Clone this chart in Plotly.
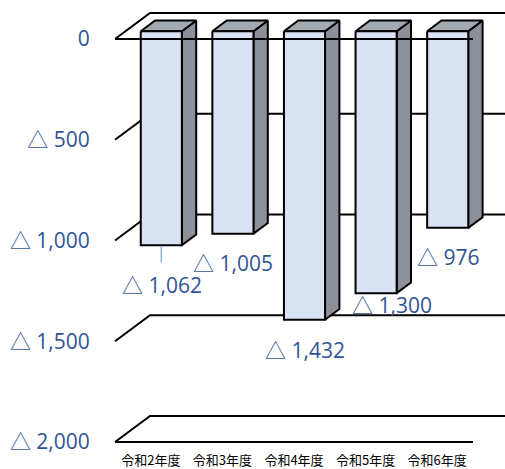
import plotly.graph_objects as go

# ---- data ----
categories = ["令和2年度", "令和3年度", "令和4年度", "令和5年度", "令和6年度"]
values = [-1062, -1005, -1432, -1300, -976]
y_ticks = [0, -500, -1000, -1500, -2000]


def fmt(v):
    return "0" if v == 0 else "△ " + f"{abs(v):,}"


# ---- 3D look (style, in axis units) ----
DX = 0.489      # x shift for a full depth step (category units)
DV = 129.0      # value shift for a full depth step
D_FRONT = 0.30  # depth of bar front face
D_BACK = 0.71   # depth of bar back face
HALF_W = 0.287  # half bar width
X_RANGE = [-0.542, 4.947]
Y_RANGE = [-2024.8, 153.8]
PX_PER_UNIT = 439 / (Y_RANGE[1] - Y_RANGE[0])

BLUE = "#2F5496"
FRONT_C = "#DAE3F3"
SIDE_C = "#8C9199"
TOP_C = "#A3A9B1"

# label nudges in pixels (dx, down)
label_nudge = [(1, 40), (0, 29), (0, 30), (16, 12), (0, 29)]

fig = go.Figure()

x_floor0 = -0.5
x_floor1 = len(categories) - 0.5

# back gridlines (side diagonal + back wall line)
gx, gy = [], []
for t in y_ticks:
    gx += [x_floor0, x_floor0 + DX, X_RANGE[1], None]
    gy += [t, t + DV, t + DV, None]
fig.add_trace(go.Scatter(x=gx, y=gy, mode="lines",
                         line=dict(color="black", width=2), hoverinfo="skip"))

# floor front edge at bottom
fig.add_trace(go.Scatter(x=[x_floor0, x_floor1], y=[y_ticks[-1], y_ticks[-1]],
                         mode="lines", line=dict(color="black", width=2),
                         hoverinfo="skip"))

# bars
fx, fy, sx, sy, tx, ty = [], [], [], [], [], []
for i, v in enumerate(values):
    xf0 = i - HALF_W + D_FRONT * DX
    xf1 = i + HALF_W + D_FRONT * DX
    xb0 = i - HALF_W + D_BACK * DX
    xb1 = i + HALF_W + D_BACK * DX
    vft, vfb = D_FRONT * DV, v + D_FRONT * DV
    vbt, vbb = D_BACK * DV, v + D_BACK * DV
    fx += [xf0, xf1, xf1, xf0, xf0, None]
    fy += [vft, vft, vfb, vfb, vft, None]
    sx += [xf1, xb1, xb1, xf1, xf1, None]
    sy += [vft, vbt, vbb, vfb, vft, None]
    tx += [xf0, xb0, xb1, xf1, xf0, None]
    ty += [vft, vbt, vbt, vft, vft, None]

for xs, ys, col in [(sx, sy, SIDE_C), (tx, ty, TOP_C), (fx, fy, FRONT_C)]:
    fig.add_trace(go.Scatter(x=xs, y=ys, mode="lines", fill="toself",
                             fillcolor=col, line=dict(color="black", width=2),
                             hoverinfo="skip"))

# front zero edge drawn over bars
fig.add_trace(go.Scatter(x=[x_floor0, x_floor1], y=[0, 0], mode="lines",
                         line=dict(color="black", width=2), hoverinfo="skip"))

# leader line for first label
xc0 = 0 + D_FRONT * DX
vb0 = values[0] + D_FRONT * DV
fig.add_trace(go.Scatter(x=[xc0, xc0], y=[vb0 - 1 / PX_PER_UNIT, vb0 - 17 / PX_PER_UNIT],
                         mode="lines", line=dict(color="#8DB4E2", width=1.5),
                         hoverinfo="skip"))

# data labels
for i, v in enumerate(values):
    ndx, ndown = label_nudge[i]
    fig.add_annotation(x=i + D_FRONT * DX, y=v + D_FRONT * DV, text=fmt(v),
                       showarrow=False, xshift=ndx, yshift=-ndown,
                       xanchor="center", yanchor="middle",
                       font=dict(family="Open Sans, Noto Sans CJK JP", size=21, color=BLUE))

fig.update_layout(
    width=505, height=469,
    margin=dict(l=112, r=0, t=8, b=22),
    paper_bgcolor="white", plot_bgcolor="white",
    showlegend=False,
    xaxis=dict(range=X_RANGE, tickvals=list(range(len(categories))),
               ticktext=categories, showgrid=False, zeroline=False,
               showline=False, ticks="", ticklabelstandoff=4,
               tickfont=dict(family="Noto Sans CJK JP", size=13, color="black")),
    yaxis=dict(range=Y_RANGE, tickvals=y_ticks, ticktext=[fmt(t) for t in y_ticks],
               showgrid=False, zeroline=False, showline=False,
               ticks="outside", ticklen=17, tickcolor="rgba(0,0,0,0)",
               tickfont=dict(family="Open Sans, Noto Sans CJK JP", size=21, color=BLUE)),
)

fig.write_html("out.html", config={"displayModeBar": False},
               post_script="document.body.style.margin='0';document.body.style.overflow='hidden';")
